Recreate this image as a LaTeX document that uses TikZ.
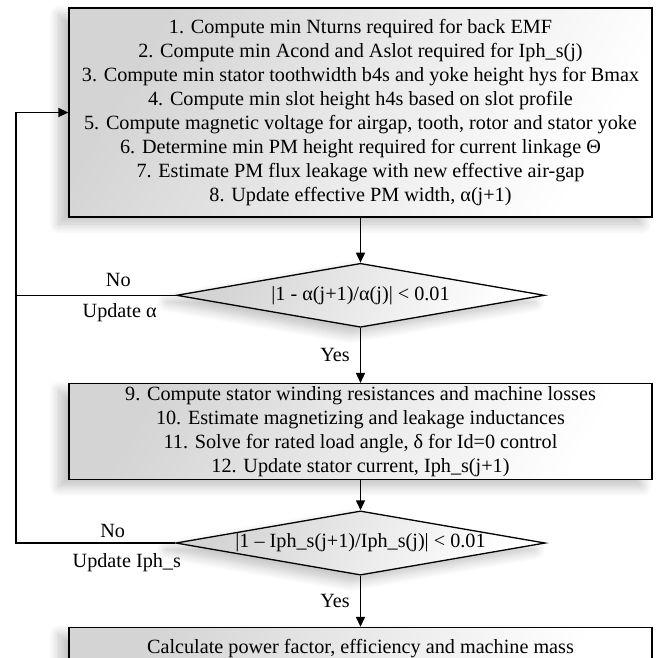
\documentclass[tikz,border=0pt]{standalone}
\usepackage{fontspec}
\setmainfont{Liberation Serif}
\usetikzlibrary{positioning, arrows.meta, shapes.geometric, calc, shadows.blur}

\begin{document}
\begin{tikzpicture}[
    font=\fontsize{20.2}{24}\selectfont,
    node distance=45pt,
    shadowed/.style={blur shadow={shadow xshift=-10pt, shadow yshift=-7pt, shadow blur radius=10pt, shadow blur steps=12, shadow opacity=25}},
    box/.style={rectangle, draw, line width=1.3pt, minimum width=583pt, align=center, inner sep=0pt, top color=black!17, bottom color=white, shading angle=60, shadowed},
    decision/.style={diamond, draw, line width=1.3pt, aspect=5.75, minimum width=368pt, minimum height=64pt, inner sep=1pt, top color=black!17, bottom color=white, shading angle=60, shadowed},
    lbl/.style={inner sep=2pt},
    wire/.style={line width=1.5pt},
    arrow/.style={wire, -{Triangle[length=10pt, width=9pt]}}
]
\useasboundingbox (-360.5pt,112.5pt) rectangle (300.5pt,-545.5pt);

\node[box, minimum height=209pt] (design) {1. Compute min Nturns required for back EMF\\
    2. Compute min Acond and Aslot required for Iph\_s(j)\\
    3. Compute min stator toothwidth b4s and yoke height hys for Bmax\\
    4. Compute min slot height h4s based on slot profile\\
    5. Compute magnetic voltage for airgap, tooth, rotor and stator yoke\\
    6. Determine min PM height required for current linkage Θ\\
    7. Estimate PM flux leakage with new effective air-gap\\
    8. Update effective PM width, α(j+1)};
\node[decision, below=45pt of design] (chkalpha) {|1 - α(j+1)/α(j)| < 0.01};
\node[box, minimum height=96pt, below=55pt of chkalpha] (losses) {9. Compute stator winding resistances and machine losses\\
    10. Estimate magnetizing and leakage inductances\\
    11. Solve for rated load angle, δ for Id=0 control\\
    12. Update stator current, Iph\_s(j+1)};
\node[decision, below=30pt of losses] (chkiph) {|1 – Iph\_s(j+1)/Iph\_s(j)| < 0.01};
\node[box, minimum height=42pt, below=51pt of chkiph] (mass) {Calculate power factor, efficiency and machine mass};

\coordinate (back) at ($(chkalpha.west)+(-160pt,0)$);

\draw[arrow] (design) -- (chkalpha);
\draw[arrow] (chkalpha) -- node[lbl, left=8pt] (yes1) {Yes} (losses);
\draw[arrow] (losses) -- (chkiph);
\draw[arrow] (chkiph) -- node[lbl, left=8pt] (yes2) {Yes} (mass);
\draw[arrow] (chkalpha.west) -- (back) |- (design.west);
\draw[wire] (chkiph.west) -| (back);

\node[lbl, above left=6pt and 43pt of chkalpha.west] (no1) {No};
\node[lbl, below left=6pt and 17pt of chkalpha.west] (upd1) {Update α};
\node[lbl, above left=3pt and 48pt of chkiph.west] (no2) {No};
\node[lbl, below left=8pt and -8pt of chkiph.west] (upd2) {Update Iph\_s};
\end{tikzpicture}
\end{document}
